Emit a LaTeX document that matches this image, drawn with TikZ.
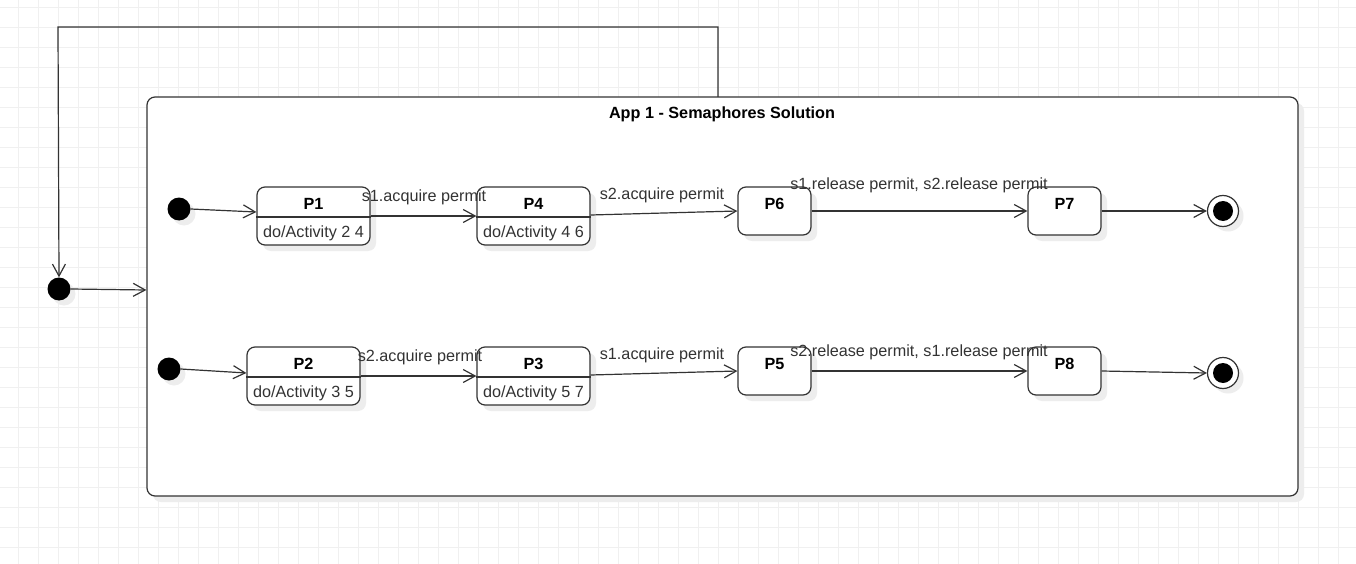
\documentclass[tikz,border=0pt]{standalone}
\usepackage{fontspec}
\setmainfont{Liberation Sans}
\usetikzlibrary{arrows.meta,calc,shadows}
\definecolor{gridc}{HTML}{F0F0F0}
\definecolor{shad}{HTML}{EDEDED}
\definecolor{ln}{HTML}{333333}
\tikzset{
 statebox/.style={draw=ln, line width=1.2pt, rounded corners=8pt, fill=white, inner sep=0pt,
   drop shadow={shadow xshift=6pt, shadow yshift=-6pt, fill=shad, opacity=1}},
 lbl/.style={font=\fontsize{16.2}{19}\selectfont, text=ln, inner sep=0pt, yshift=-2pt},
 ttl/.style={font=\fontsize{16.2}{19}\selectfont\bfseries, inner sep=0pt, yshift=-2pt},
 arr/.style={draw=ln, line width=1.2pt, -{Straight Barb[length=12pt,width=13pt,line width=1.2pt]}},
 divline/.style={draw=ln, line width=1.2pt},
 initdot/.style={circle, fill=black, minimum size=23pt, inner sep=0pt,
   drop shadow={shadow xshift=5pt, shadow yshift=-5pt, fill=shad, opacity=1}},
 finout/.style={circle, draw=ln, line width=1.2pt, fill=white, minimum size=31pt, inner sep=0pt,
   drop shadow={shadow xshift=5pt, shadow yshift=-5pt, fill=shad, opacity=1}},
 finin/.style={circle, fill=black, minimum size=20pt, inner sep=0pt},
}
\begin{document}
\begin{tikzpicture}[x=1pt,y=-1pt]
\useasboundingbox (0,0) rectangle (1356,564);
\fill[white] (0,0) rectangle (1356,564);
% grid
\foreach \i in {0,...,67} {\draw[gridc, line width=0.8pt] ({18.3+20*\i},0) -- ({18.3+20*\i},564);}
\foreach \j in {0,...,28} {\draw[gridc, line width=0.8pt] (0,{7.5+20*\j}) -- (1356,{7.5+20*\j});}

% container
\node[statebox, minimum width=1151pt, minimum height=399pt] (app) at (722.5,296.5) {};
\node[ttl] (apptitle) at (722,112) {App 1 - Semaphores Solution};

% outer initial
\node[initdot] (i0) at (59,289) {};
\coordinate (fb) at (718,97);
\draw[arr] (fb) -- (718,27) -- (58,27) -- (i0.north);
\draw[arr] (i0.east) -- (app.west |- 0,290);

% row 1
\node[initdot] (i1) at (179,209) {};
\node[statebox, minimum width=113pt, minimum height=58pt] (P1) at (313.5,216) {};
\draw[divline] (P1.west |- 0,217) -- (P1.east |- 0,217);
\node[ttl] (P1t) at (313.5,202) {P1};
\node[lbl] (P1b) at (313.5,231.5) {do/Activity 2 4};

\node[statebox, minimum width=113pt, minimum height=58pt] (P4) at (533.5,216) {};
\draw[divline] (P4.west |- 0,217) -- (P4.east |- 0,217);
\node[ttl] (P4t) at (533.5,202) {P4};
\node[lbl] (P4b) at (533.5,231.5) {do/Activity 4 6};

\node[statebox, minimum width=73pt, minimum height=48pt] (P6) at (774.5,211) {};
\node[ttl] (P6t) at (774.5,202) {P6};
\node[statebox, minimum width=73pt, minimum height=48pt] (P7) at (1064.5,211) {};
\node[ttl] (P7t) at (1064.5,202) {P7};
\node[finout] (f1) at (1223,211) {};
\node[finin] (f1i) at (1223,211) {};

\draw[arr] (i1.east) -- (P1.west |- 0,212);
\draw[arr] (P1.east) -- (P4.west);
\node[lbl] (l1) at (424,195) {s1.acquire permit};
\draw[arr] (P4.east |- 0,215) -- (P6.west);
\node[lbl] (l2) at (662,193) {s2.acquire permit};
\draw[arr] (P6.east) -- (P7.west);
\node[lbl] (l3) at (919,183) {s1.release permit, s2.release permit};
\draw[arr] (P7.east) -- (f1.west);

% row 2
\node[initdot] (i2) at (169,369) {};
\node[statebox, minimum width=113pt, minimum height=58pt] (P2) at (303.5,376) {};
\draw[divline] (P2.west |- 0,377) -- (P2.east |- 0,377);
\node[ttl] (P2t) at (303.5,362) {P2};
\node[lbl] (P2b) at (303.5,391.5) {do/Activity 3 5};

\node[statebox, minimum width=113pt, minimum height=58pt] (P3) at (533.5,376) {};
\draw[divline] (P3.west |- 0,377) -- (P3.east |- 0,377);
\node[ttl] (P3t) at (533.5,362) {P3};
\node[lbl] (P3b) at (533.5,391.5) {do/Activity 5 7};

\node[statebox, minimum width=73pt, minimum height=48pt] (P5) at (774.5,371) {};
\node[ttl] (P5t) at (774.5,362) {P5};
\node[statebox, minimum width=73pt, minimum height=48pt] (P8) at (1064.5,371) {};
\node[ttl] (P8t) at (1064.5,362) {P8};
\node[finout] (f2) at (1223,373) {};
\node[finin] (f2i) at (1223,373) {};

\draw[arr] (i2.east) -- (P2.west |- 0,373);
\draw[arr] (P2.east) -- (P3.west);
\node[lbl] (l4) at (420,355) {s2.acquire permit};
\draw[arr] (P3.east |- 0,375) -- (P5.west);
\node[lbl] (l5) at (662,353) {s1.acquire permit};
\draw[arr] (P5.east) -- (P8.west);
\node[lbl] (l6) at (919,350) {s2.release permit, s1.release permit};
\draw[arr] (P8.east) -- (f2.west);
\end{tikzpicture}
\end{document}
